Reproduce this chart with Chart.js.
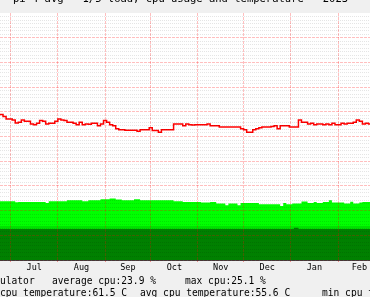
<!DOCTYPE html>
<html>
<head>
<meta charset="utf-8">
<script src="https://cdn.jsdelivr.net/npm/chart.js@4/dist/chart.umd.min.js"></script>
<style>
  body { margin: 0; background: #f0f0f0; overflow: hidden; }
  #wrap { position: relative; width: 370px; height: 297px; overflow: hidden; }
  canvas { position: absolute; left: 0; top: 0; }
  .txt { position: absolute; font-family: "DejaVu Sans Mono", monospace; color: #000; white-space: pre; line-height: 1; }
  #title { font-size: 10.5px; left: 13px; top: -7px; }
  .leg { font-size: 9.6px; }
</style>
</head>
<body>
<div id="wrap">
  <canvas id="chart" width="370" height="297"></canvas>
  <div id="title" class="txt">pi 4 avg - 1/5 load, cpu usage and temperature - 2023</div>
  <div class="txt leg" style="left:0px;top:276px">ulator</div>
  <div class="txt leg" style="left:52px;top:276px">average cpu:23.9 %</div>
  <div class="txt leg" style="left:185px;top:276px">max cpu:25.1 %</div>
  <div class="txt leg" style="left:0px;top:288px">cpu temperature:61.5 C</div>
  <div class="txt leg" style="left:140px;top:288px">avg cpu temperature:55.6 C</div>
  <div class="txt leg" style="left:322px;top:288px">min cpu temperature</div>
</div>
<script>
// days counted from 1 Jul, one sample every 2 days
const startDay = -7;
const stepDays = 2;

// cpu temperature (C)
const tempValues = [
  58.9, 58.1, 57.1, 57.1, 56.7, 55.5, 55.8, 56.7, 56.2, 56.2,
  55.1, 54.8, 55.4, 56.5, 56.2, 55.1, 55.4, 55.4, 56.2, 57.1,
  56.7, 56.5, 55.8, 55.8, 55.4, 54.8, 55.8, 54.8, 55.1, 55.0,
  55.4, 55.4, 54.4, 55.1, 56.5, 55.8, 54.8, 54.4, 53.1, 52.7,
  52.7, 52.5, 52.5, 52.5, 52.5, 52.1, 52.7, 52.7, 52.7, 53.5,
  52.4, 52.4, 51.7, 52.7, 52.7, 52.7, 52.7, 55.1, 55.1, 55.1,
  54.4, 55.1, 54.8, 54.7, 54.8, 54.8, 54.8, 54.8, 55.1, 54.4,
  54.4, 54.4, 53.8, 53.8, 53.8, 53.8, 53.8, 53.8, 53.8, 53.1,
  52.7, 51.7, 51.7, 52.7, 53.1, 53.5, 53.8, 53.8, 53.8, 54.0,
  54.4, 53.1, 54.4, 54.4, 54.4, 53.8, 53.8, 53.8, 56.7, 55.8,
  55.8, 55.1, 55.4, 54.8, 55.1, 55.1, 54.8, 55.1, 54.8, 55.4,
  54.8, 54.8, 55.4, 55.1, 55.4, 55.4, 55.8, 56.7, 56.2, 55.1,
  55.4, 55.1, 55.1
];

// average cpu (%)
const cpuValues = [
  23.8, 23.8, 23.8, 23.8, 23.8, 23.4, 23.5, 23.5, 23.5, 23.5,
  23.5, 23.5, 23.5, 23.5, 23.5, 23.1, 23.8, 23.8, 23.8, 23.8,
  23.8, 23.8, 24.2, 24.2, 24.2, 24.2, 24.2, 23.8, 23.8, 24.2,
  24.2, 24.2, 24.2, 24.6, 24.6, 24.6, 24.9, 24.9, 24.5, 24.5,
  24.2, 24.2, 24.2, 24.2, 24.6, 24.6, 24.2, 24.2, 24.2, 24.2,
  24.2, 24.2, 24.2, 24.2, 24.2, 24.2, 24.2, 23.8, 23.8, 23.8,
  23.5, 23.5, 23.5, 23.5, 23.5, 23.5, 23.3, 23.3, 23.3, 23.5,
  23.5, 22.9, 22.9, 22.9, 22.2, 22.9, 22.9, 22.9, 22.2, 23.1,
  23.1, 23.1, 23.1, 23.1, 23.1, 22.6, 22.6, 22.6, 22.6, 22.6,
  22.6, 22.6, 21.9, 23.1, 22.6, 22.6, 22.9, 22.9, 22.9, 23.7,
  23.7, 23.1, 23.1, 23.5, 23.1, 23.1, 23.5, 23.5, 24.2, 23.3,
  23.3, 23.3, 23.3, 22.9, 22.9, 23.6, 22.9, 22.9, 23.3, 23.5,
  23.5, 23.5, 23.5
];

// lower cpu bands
const midDays = [-7, 237];
const midValues = [13.8, 13.8];
const lowDays = [-7, 186, 189, 237];
const lowValues = [12.55, 13.1, 12.55, 12.55];

// x axis: month starts and names
const monthStarts = [0, 31, 62, 92, 123, 153, 184, 215];
const monthLengths = [31, 31, 30, 31, 30, 31, 31, 28];
const monthNames = ["Jul", "Aug", "Sep", "Oct", "Nov", "Dec", "Jan", "Feb"];

const toPoints = vals => vals.map((v, i) => ({ x: startDay + i * stepDays, y: v }));
const pairPoints = (xs, ys) => xs.map((x, i) => ({ x: x, y: ys[i] }));

const monthLabel = {};
monthStarts.forEach((s, i) => { monthLabel[s + monthLengths[i] / 2] = monthNames[i]; });
const isBoundary = c => c.tick && monthLabel[c.tick.value] === undefined;

const plotBg = {
    id: "plotBg",
    beforeDraw(chart) {
        const a = chart.chartArea;
        const ctx = chart.ctx;
        ctx.save();
        ctx.fillStyle = "#ffffff";
        ctx.fillRect(a.left, a.top, a.right - a.left, a.bottom - a.top);
        ctx.restore();
    }
};

const ctx = document.getElementById("chart").getContext("2d");
const chart = new Chart(ctx, {
    type: "line",
    data: {
        datasets: [
            {
                label: "cpu temperature",
                data: toPoints(tempValues),
                borderColor: "#ff0000",
                borderWidth: 1.5,
                stepped: true,
                pointRadius: 0,
                fill: false,
                order: 0
            },
            {
                label: "low",
                data: pairPoints(lowDays, lowValues),
                borderWidth: 0,
                backgroundColor: "#008000",
                stepped: true,
                pointRadius: 0,
                fill: "origin",
                order: 1
            },
            {
                label: "mid",
                data: pairPoints(midDays, midValues),
                borderWidth: 0,
                backgroundColor: "#00e000",
                stepped: true,
                pointRadius: 0,
                fill: "origin",
                order: 2
            },
            {
                label: "average cpu",
                data: toPoints(cpuValues),
                borderWidth: 0,
                backgroundColor: "#00ff00",
                stepped: true,
                pointRadius: 0,
                fill: "origin",
                order: 3
            }
        ]
    },
    options: {
        responsive: false,
        animation: false,
        layout: { padding: { top: 13, left: 0, right: 0, bottom: 0 } },
        plugins: { legend: { display: false }, tooltip: { enabled: false } },
        scales: {
            x: {
                type: "linear",
                min: -7,
                max: 236,
                afterBuildTicks: scale => {
                    const t = [];
                    monthStarts.forEach((s, i) => {
                        t.push({ value: s });
                        t.push({ value: s + monthLengths[i] / 2 });
                    });
                    scale.ticks = t;
                },
                afterFit: scale => { scale.height = 37; },
                ticks: {
                    autoSkip: false,
                    maxRotation: 0,
                    padding: 1,
                    color: "#000",
                    font: { family: "DejaVu Sans Mono", size: 8.5 },
                    callback: v => monthLabel[v] || ""
                },
                grid: {
                    z: 1,
                    drawTicks: true,
                    tickLength: 2,
                    color: c => isBoundary(c) ? "rgba(255,0,0,0.25)" : "rgba(0,0,0,0)",
                    tickColor: c => isBoundary(c) ? "rgba(255,0,0,0.4)" : "rgba(0,0,0,0)"
                },
                border: { display: true, color: "rgba(0,0,0,0.7)", z: 2, dash: [3, 1] }
            },
            y: {
                min: 0,
                max: 100,
                afterBuildTicks: scale => {
                    const t = [];
                    for (let k = 0; k < 70; k++) t.push({ value: k * 10 / 7 });
                    scale.ticks = t;
                },
                afterFit: scale => { scale.width = 0; },
                ticks: { display: false },
                grid: {
                    z: 1,
                    drawTicks: false,
                    color: c => c.index % 7 === 0 ? "rgba(255,0,0,0.25)" : "rgba(0,0,0,0.1)"
                },
                border: { display: false, dash: c => c.index % 7 === 0 ? [3, 1] : [1, 1] }
            }
        }
    },
    plugins: [plotBg]
});
</script>
</body>
</html>
